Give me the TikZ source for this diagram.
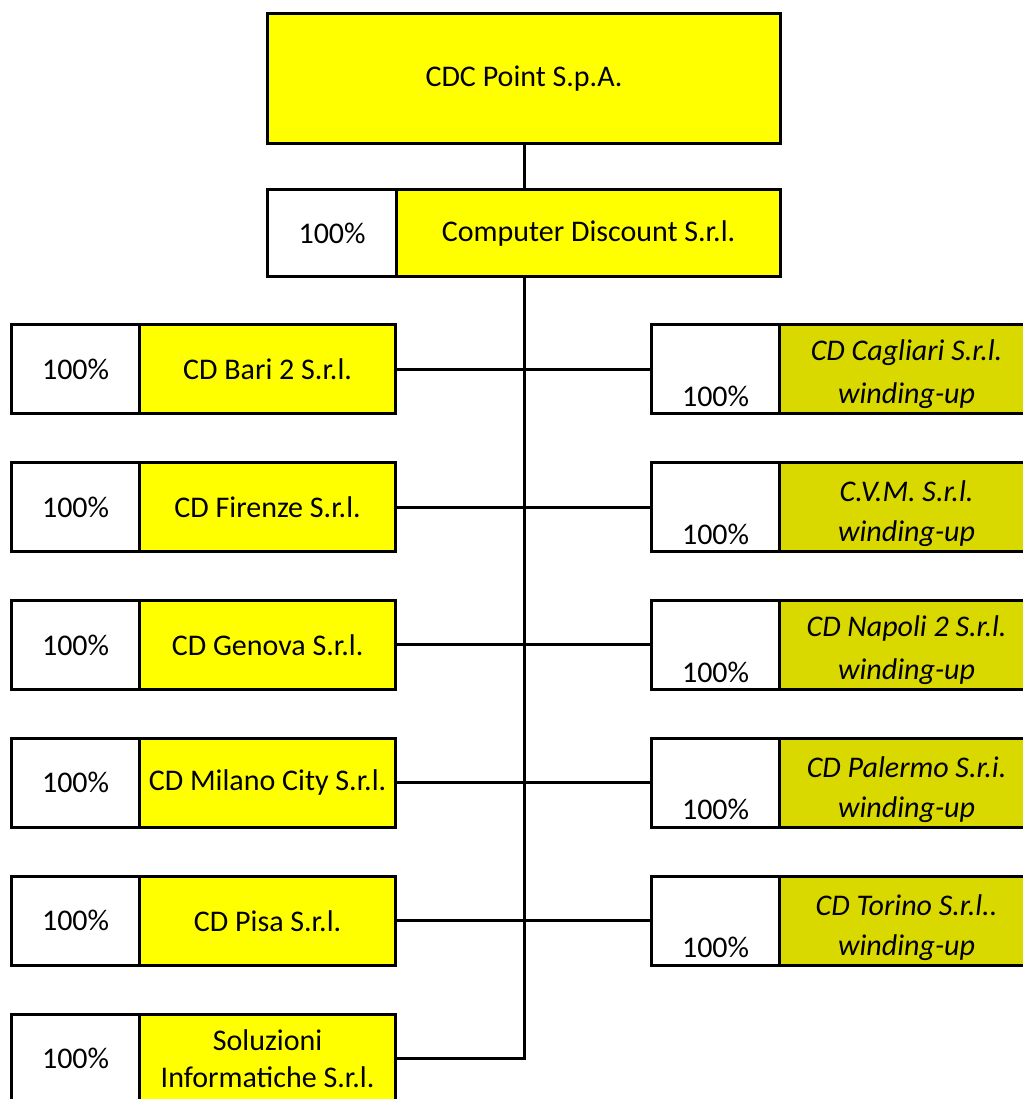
\documentclass[tikz,border=0pt]{standalone}
\usepackage{fontspec}
\setmainfont{Carlito}
\definecolor{yell}{HTML}{FFFF00}
\definecolor{olive}{HTML}{D9D900}
\begin{document}
\begin{tikzpicture}[x=0.5pt,y=-0.5pt,
  txt/.style={font=\fontsize{15}{18.5}\selectfont,align=center,inner sep=0pt},
  cell/.style={txt,draw=black,line width=1.6pt,minimum height=44.5pt,anchor=north west},
  pct/.style={cell,fill=white,minimum width=64pt},
  nm/.style={cell,fill=yell,minimum width=128pt},
  rnm/.style={cell,fill=olive,minimum width=129pt},
  itx/.style={txt,font=\fontsize{15}{18.5}\selectfont\itshape},
  conn/.style={line width=1.5pt}]
\useasboundingbox (0,0) rectangle (1023,1099);
\clip (0,0) rectangle (1023,1099);
% top
\node[cell,fill=yell,minimum width=256.5pt,minimum height=65pt] (top) at (266,12) {CDC Point S.p.A.};
\node[cell,fill=white,minimum width=64.5pt,minimum height=43.5pt] (cdp) at (266,188) {100\%};
\node[cell,fill=yell,minimum width=192pt,minimum height=43.5pt] (cdn) at (395,188) {Computer Discount S.r.l.};
% left column
\foreach \i/\n/\t in {0/l1/CD Bari 2 S.r.l., 1/l2/CD Firenze S.r.l., 2/l3/CD Genova S.r.l., 3/l4/CD Milano City S.r.l., 4/l5/CD Pisa S.r.l., 5/l6/{Soluzioni\\Informatiche S.r.l.}}{
  \pgfmathsetmacro{\yy}{323+137.9*\i}
  \node[pct] (\n p) at (10,\yy) {100\%};
  \node[nm] (\n) at (138,\yy) {\t};
}
% right column
\foreach \i/\n/\t in {0/r1/CD Cagliari S.r.l., 1/r2/C.V.M. S.r.l., 2/r3/CD Napoli 2 S.r.l., 3/r4/CD Palermo S.r.i., 4/r5/CD Torino S.r.l..}{
  \pgfmathsetmacro{\yy}{323+137.9*\i}
  \node[pct] (\n p) at (650,\yy) {};
  \node[rnm] (\n) at (778,\yy) {};
  \node[txt] (\n pt) at ([yshift=-13.5pt]\n p.center) {100\%};
  \node[itx] (\n a) at ([xshift=-1pt,yshift=8pt]\n.center) {\t};
  \node[itx] (\n b) at ([xshift=-1pt,yshift=-13.5pt]\n.center) {winding-up};
}
% connectors
\draw[conn] (top.south) -- (top.south |- cdn.north);
\draw[conn] (top.south |- cdn.south) -- (top.south |- l6.east) -- (l6.east);
\foreach \k in {1,...,5}{
  \draw[conn] (l\k.east) -- (r\k p.west);
}
\end{tikzpicture}
\end{document}
